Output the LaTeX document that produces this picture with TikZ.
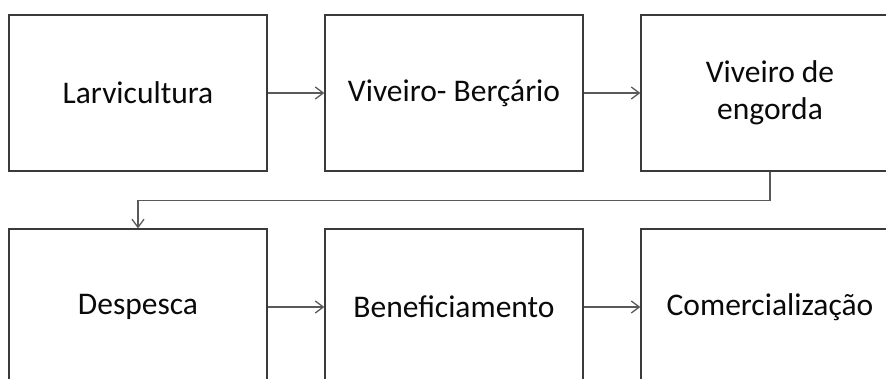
\documentclass[tikz,border=0pt]{standalone}
\usepackage{fontspec}
\setmainfont{Carlito}
\usetikzlibrary{arrows.meta}
\definecolor{boxline}{HTML}{3A3A3A}
\definecolor{arrline}{HTML}{5A5A5A}
\definecolor{txt}{HTML}{0A0A0A}
\begin{document}
\begin{tikzpicture}[x=1pt,y=-1pt,
  stepbox/.style={draw=boxline, line width=1.3pt, minimum width=258pt, minimum height=156pt,
    inner sep=0pt, align=center, text=txt, font=\fontsize{31.5}{37}\selectfont},
  arr/.style={draw=arrline, line width=1.3pt,
    -{Straight Barb[length=8pt,width=12pt,line width=1.3pt]}}]
\useasboundingbox (0,0) rectangle (886,378);
\clip (0,0) rectangle (886,378);
\fill[white] (0,0) rectangle (886,378);
\node[stepbox] (b1) at (138,93) {Larvicultura};
\node[stepbox] (b2) at (454,93) {Viveiro- Berçário};
\node[stepbox] (b3) at (770,93) {Viveiro de\\engorda};
\node[stepbox] (b4) at (138,307) {Despesca};
\node[stepbox] (b5) at (454,307) {Beneficiamento};
\node[stepbox] (b6) at (770,307) {Comercialização};
\draw[arr] (b1) -- (b2);
\draw[arr] (b2) -- (b3);
\draw[arr] (b3.south) -- ++(0,29) -| (b4.north);
\draw[arr] (b4) -- (b5);
\draw[arr] (b5) -- (b6);
\end{tikzpicture}
\end{document}
